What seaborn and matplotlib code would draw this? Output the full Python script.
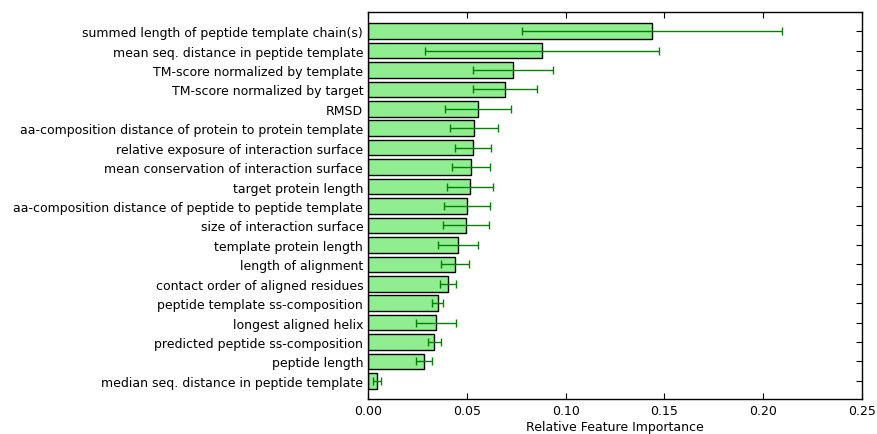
import matplotlib
matplotlib.use('Agg')
import matplotlib.pyplot as plt
import seaborn as sns

# feature names, top to bottom
features = [
    'summed length of peptide template chain(s)',
    'mean seq. distance in peptide template',
    'TM-score normalized by template',
    'TM-score normalized by target',
    'RMSD',
    'aa-composition distance of protein to protein template',
    'relative exposure of interaction surface',
    'mean conservation of interaction surface',
    'target protein length',
    'aa-composition distance of peptide to peptide template',
    'size of interaction surface',
    'template protein length',
    'length of alignment',
    'contact order of aligned residues',
    'peptide template ss-composition',
    'longest aligned helix',
    'predicted peptide ss-composition',
    'peptide length',
    'median seq. distance in peptide template',
]
importance = [0.1437, 0.0880, 0.0734, 0.0693, 0.0557, 0.0536, 0.0531, 0.0521,
              0.0516, 0.0501, 0.0496, 0.0455, 0.0440, 0.0405, 0.0354, 0.0344,
              0.0335, 0.0284, 0.0045]
std_err = [0.0660, 0.0592, 0.0202, 0.0160, 0.0167, 0.0122, 0.0091, 0.0094,
           0.0118, 0.0114, 0.0114, 0.0101, 0.0071, 0.0041, 0.0028, 0.0099,
           0.0033, 0.0040, 0.0020]

sns.set_style('ticks')
plt.rcParams['font.family'] = ['DejaVu Sans']
plt.rcParams['text.color'] = 'black'
plt.rcParams['xtick.color'] = 'black'
plt.rcParams['ytick.color'] = 'black'
plt.rcParams['axes.labelcolor'] = 'black'

fig = plt.figure(figsize=(8.77, 4.35), dpi=100)
ax = fig.add_axes([0.4196, 0.0805, 0.5634, 0.8895])

sns.barplot(x=importance, y=features, orient='h', color='lightgreen',
            saturation=1, edgecolor='black', linewidth=1, width=0.8, ax=ax)
ax.errorbar(importance, range(len(features)), xerr=std_err, fmt='none',
            ecolor='green', elinewidth=1, capsize=3, capthick=1)

ax.set_xlim(0, 0.25)
ax.set_ylim(18.93, -0.98)
ax.set_xticks([0.0, 0.05, 0.10, 0.15, 0.20, 0.25])
ax.set_xticklabels(['0.00', '0.05', '0.10', '0.15', '0.20', '0.25'])
ax.set_xlabel('Relative Feature Importance', fontsize=9, labelpad=2)
ax.set_ylabel('')
ax.tick_params(direction='in', top=True, right=True, labelsize=9, length=4)
for s in ax.spines.values():
    s.set_visible(True)
    s.set_color('black')
    s.set_linewidth(1)

fig.savefig('out.png', dpi=100)
